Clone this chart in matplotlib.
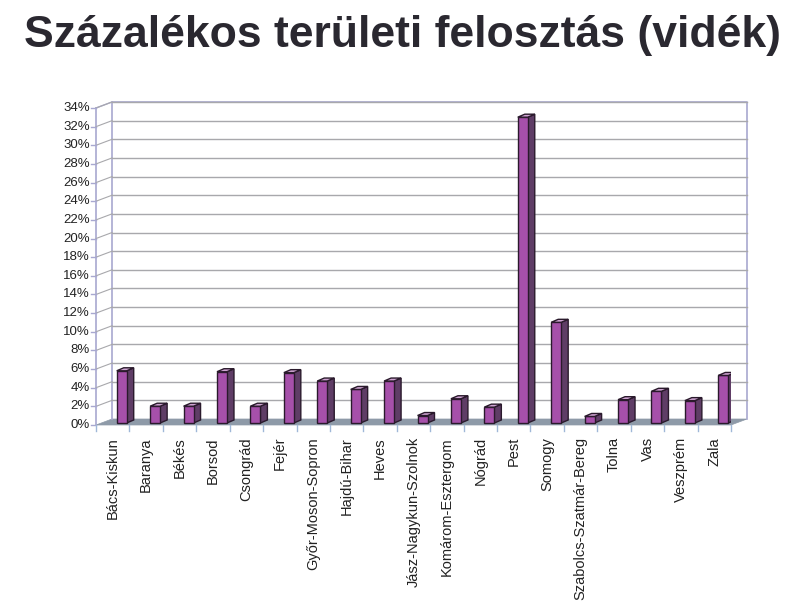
import numpy as np
import matplotlib
matplotlib.use("Agg")
from matplotlib import pyplot as plt
from matplotlib.patches import Polygon

# megyek es szazalekos ertekek (leolvasva)
megyek = ['Bács-Kiskun', 'Baranya', 'Békés', 'Borsod', 'Csongrád', 'Fejér',
          'Győr-Moson-Sopron', 'Hajdú-Bihar', 'Heves', 'Jász-Nagykun-Szolnok',
          'Komárom-Esztergom', 'Nógrád', 'Pest', 'Somogy',
          'Szabolcs-Szatmár-Bereg', 'Tolna', 'Vas', 'Veszprém', 'Zala']
ertekek = [5.6, 1.8, 1.8, 5.5, 1.8, 5.4, 4.5, 3.6, 4.5, 0.8,
           2.6, 1.7, 32.8, 10.8, 0.7, 2.5, 3.4, 2.4, 5.1]
y_ticks = list(range(0, 36, 2))
y_labels = [f"{t}%" for t in y_ticks]

W, H = 800, 611
fig = plt.figure(figsize=(W / 100, H / 100), dpi=100)
fig.patch.set_facecolor('white')

# front plane of the 3D box, in pixels
x0px, x1px = 96, 731
ytop, ybot = 108, 425
ax = fig.add_axes([x0px / W, (H - ybot) / H, (x1px - x0px) / W, (ybot - ytop) / H])
n = len(megyek)
ymax = 34
ax.set_xlim(0, n)
ax.set_ylim(0, ymax)
ax.axis('off')

# pixel -> data helpers
ux = n / (x1px - x0px)
uy = ymax / (ybot - ytop)
DX, DY = 16 * ux, 6 * uy          # full depth of the box

grid_c = '#a8a8ac'
wall_c = '#a8a8d0'

# floor
ax.add_patch(Polygon([(0, 0), (n, 0), (n + DX, DY), (DX, DY)], closed=True,
                     facecolor='#8e9aa8', edgecolor='#8e9aa8', lw=0.5, zorder=1,
                     clip_on=False))
# back wall border
ax.plot([DX, DX, n + DX, n + DX], [DY, ymax + DY, ymax + DY, DY],
        color=wall_c, lw=1.2, zorder=2, clip_on=False)
# left wall
ax.plot([0, DX], [ymax, ymax + DY], color=wall_c, lw=1, zorder=2, clip_on=False)
ax.plot([0, 0], [0, ymax], color=wall_c, lw=1.2, zorder=2, clip_on=False)

# gridlines on back wall and side wall
for t in y_ticks[1:]:
    ax.plot([DX, n + DX], [t + DY, t + DY], color=grid_c, lw=1, zorder=2, clip_on=False)
    ax.plot([0, DX], [t, t + DY], color=grid_c, lw=0.8, zorder=2, clip_on=False)
    ax.plot([-5 * ux, 0], [t, t], color=wall_c, lw=1, zorder=2, clip_on=False)
ax.plot([-5 * ux, 0], [0, 0], color=wall_c, lw=1, zorder=2, clip_on=False)

# y tick labels
for t, lab in zip(y_ticks, y_labels):
    ax.text(-6 * ux, t, lab, ha='right', va='center', fontsize=9.5,
            family='Liberation Sans', color='#222222')

# category tick marks and labels
for i in range(n + 1):
    ax.plot([i, i], [0, -6 * uy], color='#a0b8d8', lw=1, clip_on=False, zorder=2)
for i, name in enumerate(megyek):
    ax.text(i + 0.5, -12 * uy, name, rotation=90, ha='center', va='top',
            fontsize=10.5, family='Liberation Sans', color='#222222')

# bars with 3D faces
ox, oy = 9 * ux, 2 * uy          # bar placement inside the depth
bw = 10 * ux                     # front face width
bdx, bdy = 7 * ux, 3 * uy        # bar depth
front_c, side_c, top_c, edge_c = '#a650aa', '#5f3d66', '#cfa4d2', '#2a1a2c'
cx = np.arange(n) + 0.5 + ox
ax.bar(cx, ertekek, width=bw, bottom=oy, color=front_c, edgecolor=edge_c,
       lw=1.0, zorder=5)
for xc, v in zip(cx, ertekek):
    xl, xr = xc - bw / 2, xc + bw / 2
    top = v + oy
    ax.add_patch(Polygon([(xr, oy), (xr + bdx, oy + bdy), (xr + bdx, top + bdy), (xr, top)],
                         closed=True, facecolor=side_c, edgecolor=edge_c, lw=1.0, zorder=4))
    ax.add_patch(Polygon([(xl, top), (xr, top), (xr + bdx, top + bdy), (xl + bdx, top + bdy)],
                         closed=True, facecolor=top_c, edgecolor=edge_c, lw=1.0, zorder=6))

fig.text(24 / W, 1 - 47 / H, 'Százalékos területi felosztás (vidék)', ha='left',
         va='baseline', fontsize=32, fontweight='bold', family='Liberation Sans',
         color='#2a2830')

fig.savefig('out.png', dpi=100, facecolor='white')
